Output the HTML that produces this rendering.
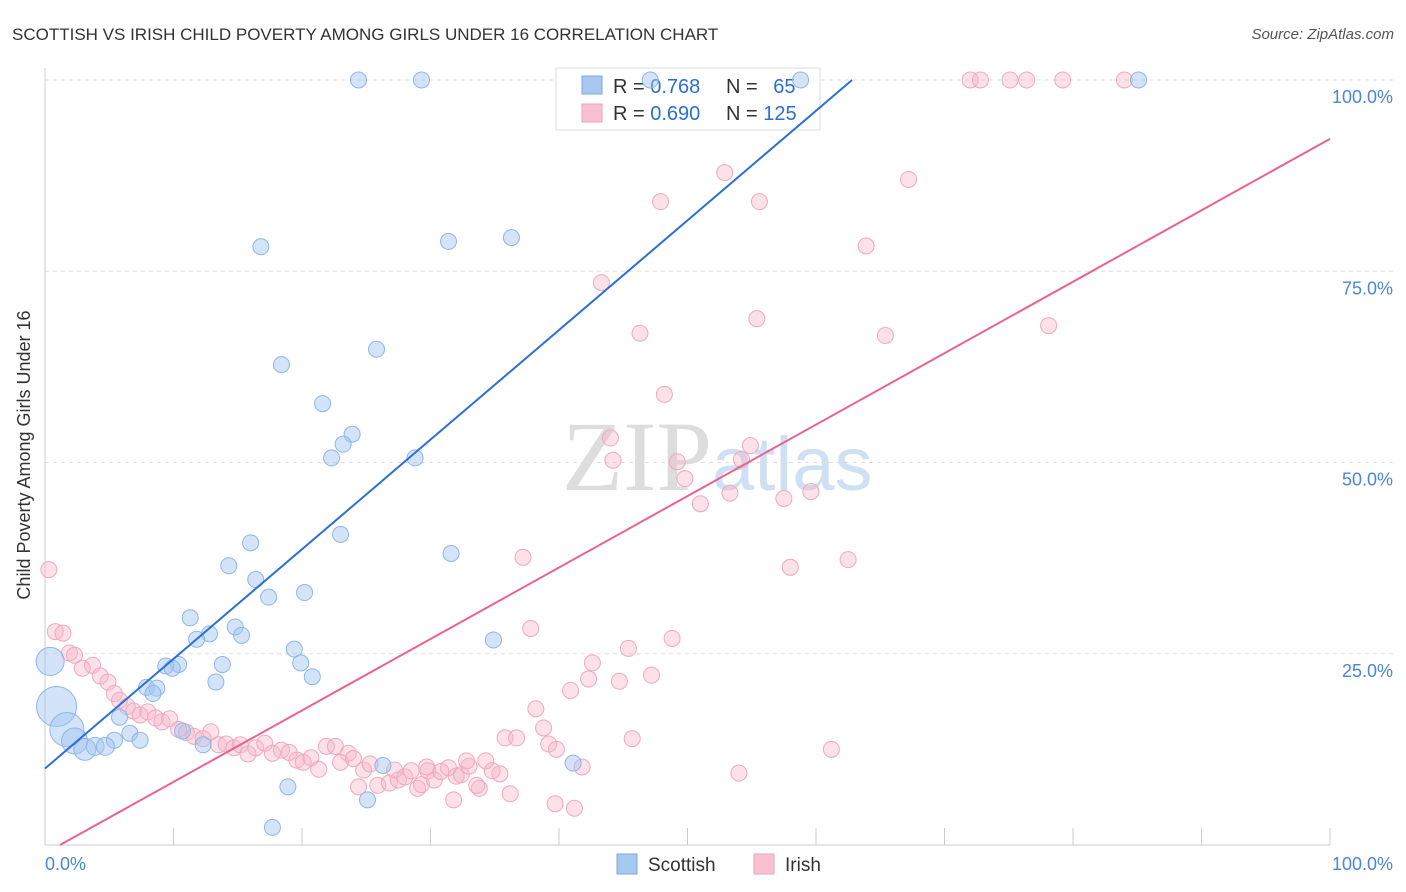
<!DOCTYPE html>
<html><head><meta charset="utf-8"><style>
body{margin:0;background:#fff;font-family:"Liberation Sans",sans-serif;}
svg{display:block}
</style></head><body>
<svg id="c" width="1406" height="892">
<text x="12" y="40" font-size="17" fill="#333">SCOTTISH VS IRISH CHILD POVERTY AMONG GIRLS UNDER 16 CORRELATION CHART</text>
<text x="1394" y="39" font-size="15" fill="#555" font-style="italic" text-anchor="end">Source: ZipAtlas.com</text>
<text x="712" y="490" font-size="100" fill="#ddd" text-anchor="end" font-family="Liberation Serif,serif">ZIP</text>
<text x="712" y="490" font-size="76" fill="#cfe0f4">atlas</text>
<text x="30" y="455" font-size="18" fill="#333" text-anchor="middle" transform="rotate(-90 30 455)">Child Poverty Among Girls Under 16</text>
<g id="grid"></g>
<g>
<rect x="556" y="68" width="264" height="62" fill="#fff" stroke="#ddd"/>
<rect x="582" y="76" width="20" height="18" fill="#a8c8f0" stroke="#7aa8e0"/>
<rect x="582" y="104" width="20" height="18" fill="#f8c0d0" stroke="#f0a0b8"/>
<text x="613" y="93" font-size="20" fill="#333">R = <tspan fill="#2b6fd6">0.768</tspan></text>
<text x="726" y="93" font-size="20" fill="#333">N = <tspan fill="#2b6fd6" dx="10">65</tspan></text>
<text x="613" y="120" font-size="20" fill="#333">R = <tspan fill="#2b6fd6">0.690</tspan></text>
<text x="726" y="120" font-size="20" fill="#333">N = <tspan fill="#2b6fd6">125</tspan></text>
</g>
<g id="pts"></g><g id="lines"></g>
<g>
<rect x="617" y="854" width="20" height="20" fill="#a8c8f0" stroke="#7aa8e0"/>
<text x="648" y="871" font-size="19" fill="#333">Scottish</text>
<rect x="754" y="854" width="20" height="20" fill="#f8c0d0" stroke="#f0a0b8"/>
<text x="785" y="871" font-size="19" fill="#333">Irish</text>
</g>
<text x="45" y="870" font-size="18" fill="#4a86d8">0.0%</text>
<text x="1393" y="870" font-size="18" fill="#4a86d8" text-anchor="end">100.0%</text>
</svg>
<script>
const yTicks=[25,50,75,100];
const yTickLabels=["25.0%","50.0%","75.0%","100.0%"];
const xTicks=[0,10,20,30,40,50,60,70,80,90,100];
const blueX=[24.4,29.3,85.1,16.8,31.4,36.3,18.4,25.8,21.6,23.9,23.2,22.3,28.8,23.0,31.6,16.0,14.3,16.4,17.4,20.2,11.3,12.8,11.8,14.8,15.3,19.4,19.9,20.8,13.8,13.3,10.4,9.4,9.9,7.9,8.7,8.4,34.9,5.8,6.6,7.4,5.4,0.4,0.9,1.7,2.3,3.1,3.9,4.7,10.7,12.3,18.9,17.7,25.1,26.3,41.1,47.1,58.8];
const blueY=[100,100,100,78.2,78.9,79.4,62.8,64.8,57.7,53.7,52.4,50.6,50.6,40.6,38.1,39.5,36.5,34.7,32.4,33.0,29.7,27.6,26.9,28.5,27.4,25.6,23.8,22.0,23.6,21.3,23.6,23.4,23.1,20.6,20.5,19.8,26.8,16.7,14.6,13.7,13.7,24.0,18.1,15.1,13.6,12.5,12.9,12.9,14.9,13.1,7.6,2.3,5.9,10.4,10.7,100,100];
const blueR=[8,8,8,8,8,8,8,8,8,8,8,8,8,8,8,8,8,8,8,8,8,8,8,8,8,8,8,8,8,8,8,8,8,8,8,8,8,8,8,8,8,14,20,17,13,11,9,9,8,8,8,8,8,8,8,8,8];
const pinkX=[72.0,72.8,75.1,76.4,79.2,84.0,52.9,67.2,47.9,55.6,63.9,43.3,46.3,55.4,65.4,78.1,48.2,44.0,44.2,54.9,54.2,49.2,49.8,51.0,53.3,57.5,59.6,37.2,58.0,62.5,37.8,45.4,48.8,42.6,42.3,44.7,47.2,40.9,38.2,38.8,35.8,36.7,39.2,39.8,45.7,61.2,54.0,41.8,39.7,41.2,36.2,33.8,31.8,29.0,0.3,0.8,1.4,1.9,2.3,2.9,3.7,4.3,4.9,5.4,5.8,6.4,6.9,7.4,8.0,8.6,9.1,9.7,10.4,11.0,11.6,12.3,12.9,13.5,14.1,14.7,15.2,15.8,16.4,17.1,17.7,18.4,19.0,19.6,20.1,20.7,21.3,21.9,22.6,23.0,23.6,24.0,24.8,25.3,25.9,26.8,27.5,28.0,28.5,29.3,29.8,30.3,30.8,31.4,32.0,32.4,33.0,33.6,34.3,34.8,35.4,24.4,27.2,29.7,32.8];
const pinkY=[100,100,100,100,100,100,87.9,87.0,84.1,84.1,78.3,73.5,66.9,68.8,66.6,67.9,58.9,53.2,50.3,52.2,50.4,50.1,47.9,44.6,46.0,45.3,46.2,37.6,36.3,37.3,28.3,25.7,27.0,23.8,21.7,21.4,22.2,20.2,17.8,15.3,14.0,14.0,13.2,12.5,13.9,12.5,9.4,10.2,5.4,4.8,6.7,7.4,5.9,7.4,36.0,27.9,27.7,25.1,24.8,23.1,23.5,22.1,21.3,19.8,18.9,18.1,17.5,17.0,17.4,16.6,16.1,16.5,15.1,14.7,14.2,13.9,14.8,13.1,13.2,12.7,13.1,11.9,12.7,13.3,12.0,12.4,12.1,11.1,10.8,11.4,9.9,12.9,12.9,10.8,12.0,11.3,9.8,10.6,7.8,8.1,8.5,8.9,9.7,7.9,9.7,8.5,9.6,10.1,9.0,9.2,10.3,7.8,11.0,9.7,9.3,7.6,9.8,10.2,11.0];
const L=45,R=1330,T=80,B=845;
const sx=v=>L+v/100*(R-L), sy=v=>B-v/100*(B-T);
const NS="http://www.w3.org/2000/svg";
function mk(tag,attrs,parent){const e=document.createElementNS(NS,tag);for(const k in attrs)e.setAttribute(k,attrs[k]);parent.appendChild(e);return e;}
const grid=document.getElementById('grid');
yTicks.forEach((t,i)=>{
 const g=mk('line',{x1:L,x2:1393,y1:sy(t),y2:sy(t),stroke:'#ddd','stroke-dasharray':'4,4'},grid);
 
 
 const tx=mk('text',{x:1393,y:sy(t)+23,'font-size':18,fill:'#4a86d8','text-anchor':'end'},grid);
 tx.textContent=yTickLabels[i];
 
 
});
const ax=mk('line',{x1:L,x2:L,y1:68,y2:B,stroke:'#ccc'},grid);


const bx=mk('line',{x1:L,x2:R,y1:B,y2:B,stroke:'#ccc'},grid);


xTicks.forEach(t=>{
 const k=mk('line',{x1:sx(t),x2:sx(t),y1:828,y2:B,stroke:'#ccc'},grid);
 
 
});
const pts=document.getElementById('pts');
pinkX.forEach((x,i)=>{
 const c=mk('circle',{cx:sx(x),cy:sy(pinkY[i]),r:8,fill:'rgba(248,180,200,0.4)',stroke:'#f0a8bf','stroke-width':1},pts);
 
 
});
blueX.forEach((x,i)=>{
 const c=mk('circle',{cx:sx(x),cy:sy(blueY[i]),r:blueR[i],fill:'rgba(160,196,240,0.45)',stroke:'#8db6e8','stroke-width':1},pts);
 
 
});
const lines=document.getElementById('lines');
const bA=10,bB=1.433; const bxEnd=(100-bA)/bB;
const bl=mk('line',{x1:sx(0),y1:sy(bA),x2:sx(bxEnd),y2:sy(100),stroke:'#2b6fd6','stroke-width':2},lines);


const pA=-1.09,pB=0.934; const pxStart=-pA/pB;
const pl=mk('line',{x1:sx(pxStart),y1:sy(0),x2:sx(100),y2:sy(pA+pB*100),stroke:'#e8648f','stroke-width':2},lines);


</script>
</body></html>
